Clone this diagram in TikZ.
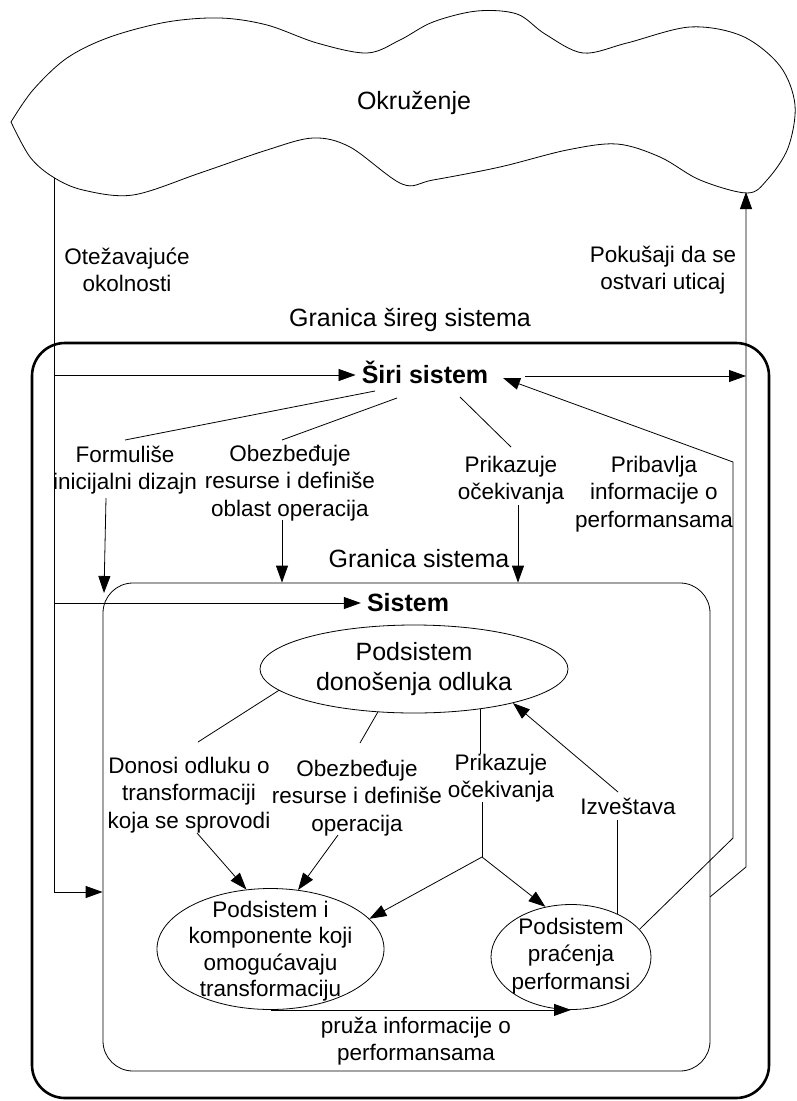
\documentclass[tikz,border=0pt]{standalone}
\usepackage{fontspec}
\setmainfont{Liberation Sans}
\usetikzlibrary{arrows.meta,shapes.geometric,calc}
\begin{document}
\begin{tikzpicture}[x=1pt,y=-1pt,
  every node/.style={inner sep=0pt, align=center},
  big/.style={font=\fontsize{25}{30}\selectfont},
  lbl/.style={font=\fontsize{22.5}{27.5}\selectfont},
  sublbl/.style={font=\fontsize{22.5}{26.5}\selectfont},
  head/.style={font=\fontsize{25}{30}\selectfont\bfseries, text height=16pt, text depth=0pt},
  wire/.style={line width=0.8pt},
  arr/.style={wire, -{Triangle[length=17pt,width=12pt]}},
  sub/.style={ellipse, draw, line width=0.8pt, inner sep=0pt},
]
\useasboundingbox (0,0) rectangle (797,1101);

% environment cloud
\draw[wire] plot[smooth, tension=0.55] coordinates {
  (11,122) (33,90) (67,58) (110,37) (167,22) (220,18) (267,25) (317,43)
  (367,53) (400,40) (433,22) (477,11) (517,14) (545,34) (583,53) (627,43)
  (690,27) (742,36) (780,66) (795,105) (788,148) (767,180) (747,193)
  (700,180) (660,157) (617,144) (567,150) (500,167) (433,180) (402,184)
  (350,147) (313,138) (267,150) (200,173) (133,195) (83,190) (53,177)
  (30,157) (11,122)};
\node[big] (env) at (414,103) {Okruženje};

% boundaries
\node[draw, line width=2.6pt, rounded corners=33pt, minimum width=737pt,
      minimum height=755pt] (wide) at (400.5,720.5) {};
\node[draw, line width=0.8pt, rounded corners=30pt, minimum width=607pt,
      minimum height=488pt] (sysbox) at (406.5,827) {};
\node[big] (gwide) at (410,319.5) {Granica šireg sistema};
\node[big] (gsys) at (419,559) {Granica sistema};

% headings
\node[head] (siri) at (425,375) {Širi sistem};
\node[head] (sys) at (408,603) {Sistem};

% external labels
\node[lbl] (otez) at (127,270) {Otežavajuće\\okolnosti};
\node[lbl] (pokus) at (663,270) {Pokušaji da se\\ostvari uticaj};

% wider-system labels
\node[lbl] (form) at (125,470) {Formuliše\\inicijalni dizajn};
\node[lbl] (obez) at (290,483) {Obezbeđuje\\resurse i definiše\\oblast operacija};
\node[lbl] (prik) at (511,480) {Prikazuje\\očekivanja};
\node[lbl] (prib) at (654,494) {Pribavlja\\informacije o\\performansama};

% subsystems
\node[sub, big, minimum width=308pt, minimum height=88pt] (dec) at (414,669)
  {Podsistem\\donošenja odluka};
\node[sub, minimum width=227pt, minimum height=121pt] (trans) at (270.5,949) {};
\node[sublbl] (transT) at (270.5,951) {Podsistem i\\komponente koji\\omogućavaju\\transformaciju};
\node[sub, minimum width=160pt, minimum height=105pt] (perf) at (571,957) {};
\node[lbl] (perfT) at (571,956) {Podsistem\\praćenja\\performansi};

% inner labels
\node[lbl] (donosi) at (189,795) {Donosi odluku o\\transformaciji\\koja se sprovodi};
\node[lbl] (obez2) at (357,798) {Obezbeđuje\\resurse i definiše\\operacija};
\node[lbl] (prik2) at (501,778) {Prikazuje\\očekivanja};
\node[lbl] (izv) at (628,806) {Izveštava};
\node[lbl] (pruza) at (416,1041) {pruža informacije o\\performansama};

% connector points
\coordinate (envL) at (54,178);
\coordinate (envR) at (746,192);
\coordinate (trunkB) at (54,892);
\coordinate (riseB) at (746,867);
\coordinate (pokFoot) at (710,897);
\coordinate (siriOut) at (525,376);
\coordinate (siriIn) at (503,378);
\coordinate (pbA) at (733,838);
\coordinate (pbB) at (733,462);
\coordinate (s1) at (375,391);
\coordinate (s2) at (397,398);
\coordinate (s3) at (460,397);
\coordinate (formT) at (125,440);
\coordinate (obezT) at (282,440);
\coordinate (prikT) at (511,447);
\coordinate (formB) at (106,498);
\coordinate (formTip) at (104,593);
\coordinate (obezB) at (282,520);
\coordinate (prikB) at (518,505);
\coordinate (donT) at (198,742);
\coordinate (obez2T) at (360,743);
\coordinate (donB) at (197,833);
\coordinate (obez2B) at (338,835);
\coordinate (split) at (482,857);
\coordinate (izvT) at (618,792);
\coordinate (izvB) at (619,820);

% environment trunk and branches
\draw[arr] (envL) -- (trunkB) -- (trunkB -| sysbox.west);
\draw[arr] (envL |- siri) -- ([xshift=-6pt]siri.west);
\draw[arr] (envL |- sys) -- ([xshift=-6pt]sys.west);
\draw[arr] (pokFoot) -- (riseB) -- (envR);
\draw[arr] (siriOut) -- (siriOut -| envR);

% wider system
\draw[wire] (s1) -- (formT);
\draw[wire] (s2) -- (obezT);
\draw[wire] (s3) -- (prikT);
\draw[arr] (formB) -- (formTip);
\draw[arr] (obezB) -- (obezB |- sysbox.north);
\draw[arr] (prikB) -- (prikB |- sysbox.north);
\draw[arr] (perf.22) -- (pbA) -- (pbB) -- (siriIn);

% system
\draw[wire] (dec.189) -- (donT);
\draw[wire] (dec.230) -- (obez2T);
\draw[wire] (dec.329) -- (dec.329 |- prik2.north);
\draw[wire] (split |- prik2.south) -- (split);
\draw[arr] (split) -- (trans.17);
\draw[arr] (split) -- (perf.117);
\draw[arr] (donB) -- (trans.112);
\draw[arr] (obez2B) -- (trans.65);
\draw[arr] (izvT) -- (dec.341);
\draw[wire] (perf.43) -- (perf.43 |- izvB);
\draw[arr] (trans.south) -- (trans.south -| perf.south);
\end{tikzpicture}
\end{document}
